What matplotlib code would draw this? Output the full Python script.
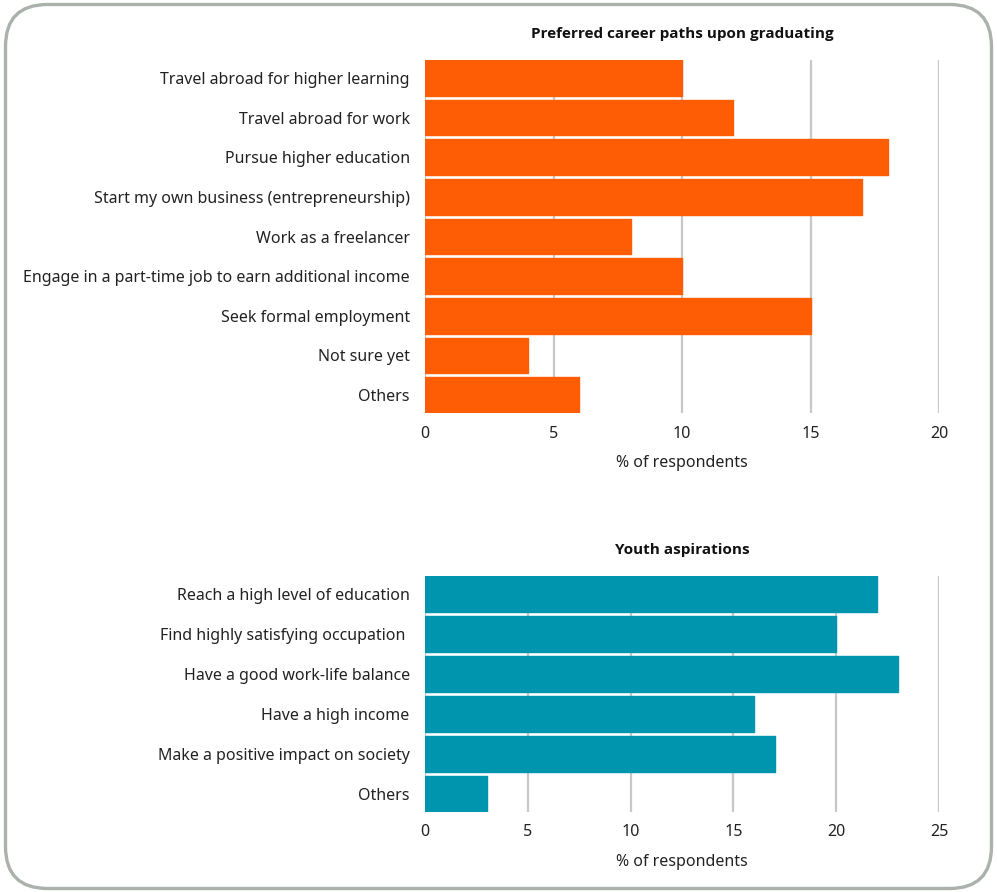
import matplotlib
matplotlib.use("Agg")
import matplotlib.pyplot as plt
from matplotlib.patches import FancyBboxPatch

plt.rcParams['font.family'] = ['Noto Sans', 'DejaVu Sans']

# data
career_labels = ["Travel abroad for higher learning", "Travel abroad for work",
                 "Pursue higher education", "Start my own business (entrepreneurship)",
                 "Work as a freelancer", "Engage in a part-time job to earn additional income",
                 "Seek formal employment", "Not sure yet", "Others"]
career_values = [10, 12, 18, 17, 8, 10, 15, 4, 6]

aspiration_labels = ["Reach a high level of education", "Find highly satisfying occupation ",
                     "Have a good work-life balance", "Have a high income",
                     "Make a positive impact on society", "Others"]
aspiration_values = [22, 20, 23, 16, 17, 3]

career_ticks = [0, 5, 10, 15, 20]
aspiration_ticks = [0, 5, 10, 15, 20, 25]

ORANGE = '#ff5d05'
TEAL = '#0095ae'
GRID = '#c8c8c8'
TEXT = '#222222'

W, H = 997, 892
fig = plt.figure(figsize=(W / 100, H / 100), dpi=100)


def panel(rect, labels, values, ticks, color, title):
    ax = fig.add_axes(rect)
    n = len(labels)
    ypos = list(range(n))
    ax.barh(ypos, values, height=0.9, color=color, edgecolor=color,
            linewidth=1, joinstyle='round', zorder=3)
    ax.set_ylim(n - 0.55, -0.45)
    ax.set_xlim(0, ticks[-1])
    ax.set_xticks(ticks)
    ax.set_yticks(ypos)
    ax.set_yticklabels(labels)
    ax.grid(axis='x', color=GRID, linewidth=1.6, zorder=0)
    ax.grid(axis='y', visible=False)
    for s in ax.spines.values():
        s.set_visible(False)
    ax.tick_params(axis='both', length=0, labelsize=11.5, labelcolor=TEXT)
    ax.tick_params(axis='y', pad=11)
    ax.tick_params(axis='x', pad=9)
    ax.set_xlabel('% of respondents', fontsize=11.5, color=TEXT, labelpad=10)
    ax.set_title(title, fontsize=11, fontweight='bold', color='#111111', pad=16,
                 family=['Open Sans', 'Lato', 'DejaVu Sans'])
    return ax


panel([425 / W, 1 - 413 / H, 514 / W, 353 / H], career_labels, career_values,
      career_ticks, ORANGE, 'Preferred career paths upon graduating')
panel([425 / W, 1 - 812 / H, 514 / W, 236 / H], aspiration_labels, aspiration_values,
      aspiration_ticks, TEAL, 'Youth aspirations')

# rounded frame around the whole graphic
frame = FancyBboxPatch((0.055, 0.035), 9.86, 8.84,
                       boxstyle='round,pad=0,rounding_size=0.42',
                       transform=fig.dpi_scale_trans, facecolor='none',
                       edgecolor='#abb2ab', linewidth=2.4)
fig.patches.append(frame)

fig.savefig('out.png', dpi=100, facecolor='white')
